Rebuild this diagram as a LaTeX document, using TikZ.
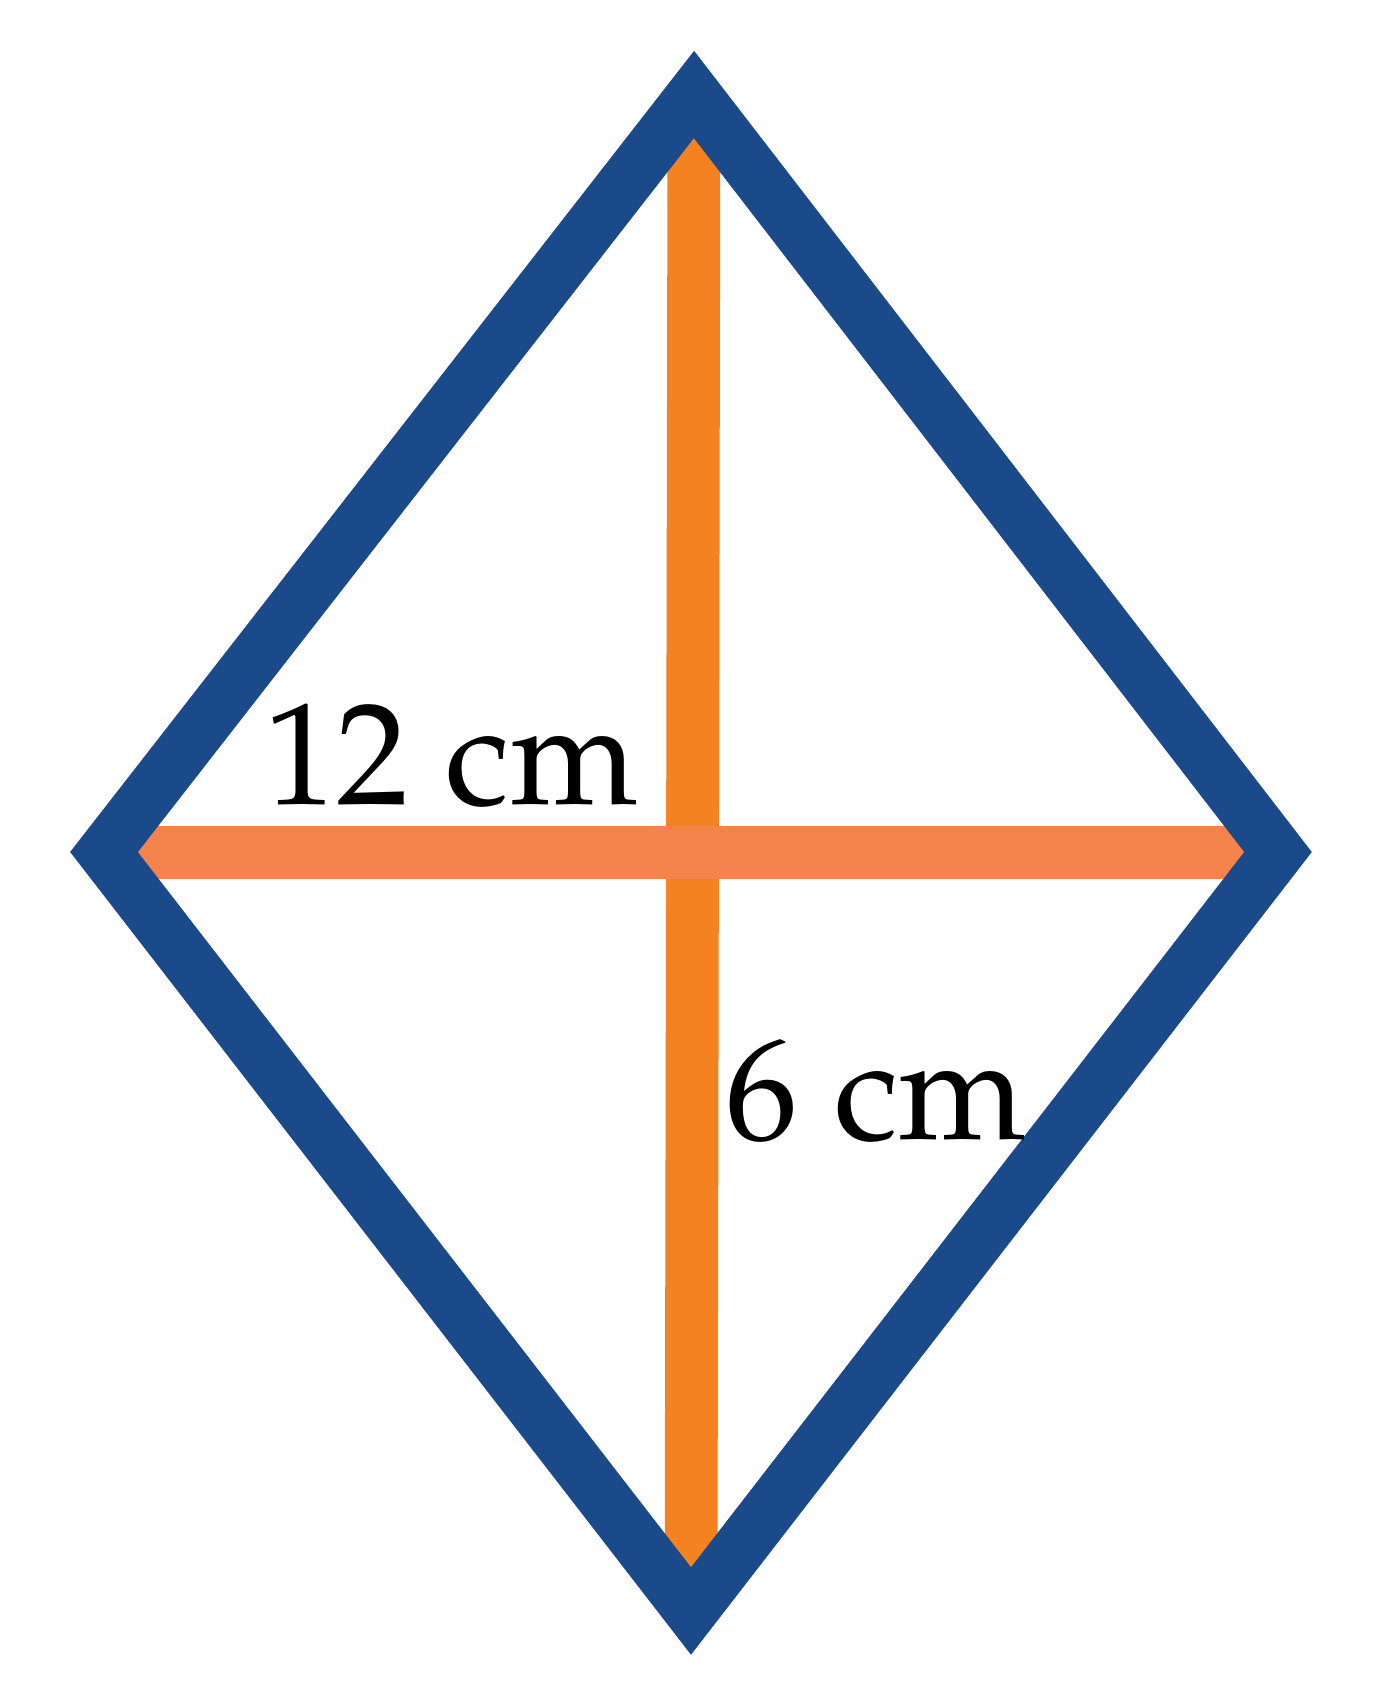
\documentclass[tikz,border=0pt]{standalone}
\usepackage{fontspec}
\IfFontExistsTF{TeX Gyre Pagella}{\newfontfamily\lblfont{TeX Gyre Pagella}}{\newfontfamily\lblfont{Liberation Serif}}
\begin{document}
\begin{tikzpicture}[x=0.5pt,y=-0.5pt,
  rhomb/.style={draw=blueedge,line width=26.75pt,line join=miter,miter limit=10},
  vdiag/.style={draw=orangev,line width=26.4pt},
  hdiag/.style={draw=orangeh,line width=26.5pt},
  lbl/.style={inner sep=0pt,anchor=base west,font=\lblfont\fontsize{72.5}{87}\selectfont}]
\definecolor{blueedge}{RGB}{27,74,138}
\definecolor{orangev}{RGB}{245,130,32}
\definecolor{orangeh}{RGB}{244,131,76}
\useasboundingbox (0,0) rectangle (1388,1703);
\fill[white] (0,0) rectangle (1388,1703);
\coordinate (T) at (694,94.5);
\coordinate (L) at (104,852);
\coordinate (R) at (1278,852);
\coordinate (B) at (691,1611);
\draw[vdiag] (T) -- (B);
\draw[hdiag] (L) -- (R);
\draw[rhomb] (T) -- (R) -- (B) -- (L) -- cycle;
\node[lbl] (a) at (264,804) {12 cm};
\node[lbl] (b) at (725,1139) {6 cm};
\end{tikzpicture}
\end{document}
